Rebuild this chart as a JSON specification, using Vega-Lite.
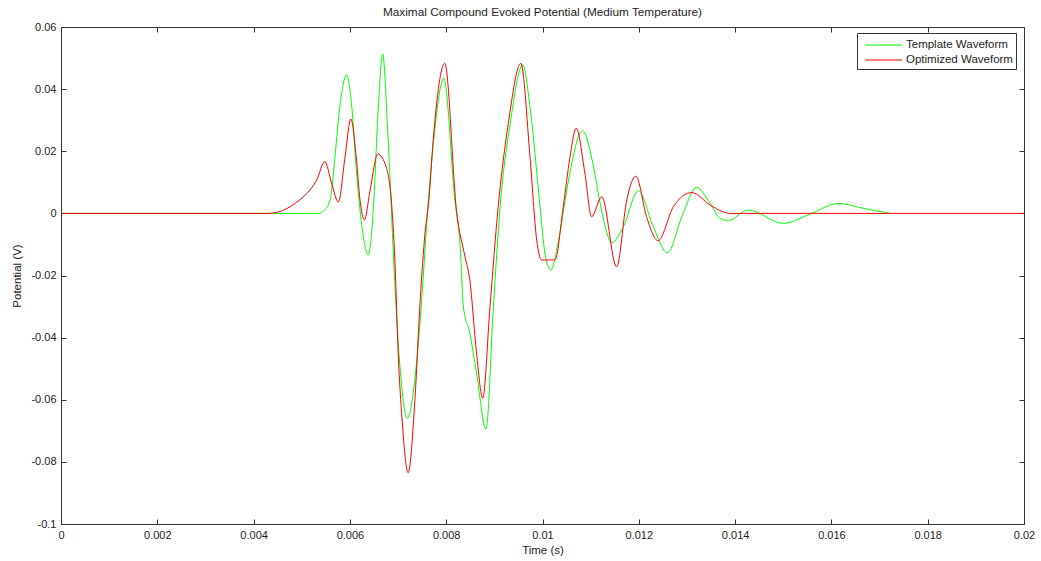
{
  "$schema": "https://vega.github.io/schema/vega-lite/v6.json",
  "width": 963,
  "height": 497,
  "autosize": {"type": "none"},
  "padding": {"left": 61, "top": 27, "right": 17, "bottom": 37},
  "background": "white",
  "config": {
    "font": "Liberation Sans",
    "view": {"stroke": "#333", "strokeWidth": 1},
    "axis": {"labelFont": "Liberation Sans", "titleFont": "Liberation Sans", "labelFontSize": 11, "titleFontSize": 11.5, "titleFontWeight": "normal", "labelColor": "#222", "titleColor": "#222", "domainColor": "#333", "tickColor": "#333", "grid": false}
  },
  "title": {"text": "Maximal Compound Evoked Potential (Medium Temperature)", "fontSize": 11.8, "fontWeight": "normal", "font": "Liberation Sans", "color": "#222", "offset": 2},
  "datasets": {
    "wave": [
      {"series": "Template Waveform", "t": 0, "v": 0},
      {"series": "Template Waveform", "t": 0.00535, "v": 0},
      {"series": "Template Waveform", "t": 0.00548, "v": 0.0012},
      {"series": "Template Waveform", "t": 0.00559, "v": 0.0043},
      {"series": "Template Waveform", "t": 0.00569, "v": 0.0183},
      {"series": "Template Waveform", "t": 0.00579, "v": 0.0343},
      {"series": "Template Waveform", "t": 0.00593, "v": 0.0446},
      {"series": "Template Waveform", "t": 0.00604, "v": 0.0343},
      {"series": "Template Waveform", "t": 0.00614, "v": 0.0129},
      {"series": "Template Waveform", "t": 0.00625, "v": -0.0043},
      {"series": "Template Waveform", "t": 0.00638, "v": -0.0134},
      {"series": "Template Waveform", "t": 0.00649, "v": 0.0022},
      {"series": "Template Waveform", "t": 0.00659, "v": 0.0343},
      {"series": "Template Waveform", "t": 0.00668, "v": 0.0513},
      {"series": "Template Waveform", "t": 0.00679, "v": 0.025},
      {"series": "Template Waveform", "t": 0.00694, "v": -0.0247},
      {"series": "Template Waveform", "t": 0.00704, "v": -0.0494},
      {"series": "Template Waveform", "t": 0.00719, "v": -0.066},
      {"series": "Template Waveform", "t": 0.00739, "v": -0.0472},
      {"series": "Template Waveform", "t": 0.00749, "v": -0.0279},
      {"series": "Template Waveform", "t": 0.00763, "v": 0.0043},
      {"series": "Template Waveform", "t": 0.00775, "v": 0.025},
      {"series": "Template Waveform", "t": 0.00795, "v": 0.0435},
      {"series": "Template Waveform", "t": 0.00818, "v": 0.0043},
      {"series": "Template Waveform", "t": 0.00829, "v": -0.0107},
      {"series": "Template Waveform", "t": 0.008356, "v": -0.03},
      {"series": "Template Waveform", "t": 0.00849, "v": -0.0385},
      {"series": "Template Waveform", "t": 0.00863, "v": -0.0514},
      {"series": "Template Waveform", "t": 0.008827, "v": -0.0695},
      {"series": "Template Waveform", "t": 0.00898, "v": -0.03},
      {"series": "Template Waveform", "t": 0.00912, "v": 0.0022},
      {"series": "Template Waveform", "t": 0.00933, "v": 0.029},
      {"series": "Template Waveform", "t": 0.00959, "v": 0.0478},
      {"series": "Template Waveform", "t": 0.00974, "v": 0.0343},
      {"series": "Template Waveform", "t": 0.00995, "v": 0.002},
      {"series": "Template Waveform", "t": 0.01005, "v": -0.0128},
      {"series": "Template Waveform", "t": 0.01017, "v": -0.0182},
      {"series": "Template Waveform", "t": 0.01036, "v": -0.0064},
      {"series": "Template Waveform", "t": 0.01054, "v": 0.0107},
      {"series": "Template Waveform", "t": 0.01083, "v": 0.0266},
      {"series": "Template Waveform", "t": 0.01106, "v": 0.015},
      {"series": "Template Waveform", "t": 0.0112, "v": 0.003},
      {"series": "Template Waveform", "t": 0.01144, "v": -0.0094},
      {"series": "Template Waveform", "t": 0.01168, "v": -0.0043},
      {"series": "Template Waveform", "t": 0.01199, "v": 0.0073},
      {"series": "Template Waveform", "t": 0.0123, "v": -0.0043},
      {"series": "Template Waveform", "t": 0.01259, "v": -0.0127},
      {"series": "Template Waveform", "t": 0.01292, "v": 0},
      {"series": "Template Waveform", "t": 0.0132, "v": 0.0084},
      {"series": "Template Waveform", "t": 0.01348, "v": 0.0032},
      {"series": "Template Waveform", "t": 0.01369, "v": -0.0016},
      {"series": "Template Waveform", "t": 0.01386, "v": -0.0023},
      {"series": "Template Waveform", "t": 0.01427, "v": 0.0011},
      {"series": "Template Waveform", "t": 0.015, "v": -0.0032},
      {"series": "Template Waveform", "t": 0.01559, "v": 0},
      {"series": "Template Waveform", "t": 0.01614, "v": 0.0032},
      {"series": "Template Waveform", "t": 0.0167, "v": 0.0015},
      {"series": "Template Waveform", "t": 0.01722, "v": 0},
      {"series": "Optimized Waveform", "t": 0, "v": 0},
      {"series": "Optimized Waveform", "t": 0.0043, "v": 0},
      {"series": "Optimized Waveform", "t": 0.00455, "v": 0.0006},
      {"series": "Optimized Waveform", "t": 0.00476, "v": 0.0022},
      {"series": "Optimized Waveform", "t": 0.00497, "v": 0.0045},
      {"series": "Optimized Waveform", "t": 0.00517, "v": 0.0075},
      {"series": "Optimized Waveform", "t": 0.00531, "v": 0.0107},
      {"series": "Optimized Waveform", "t": 0.00548, "v": 0.0167},
      {"series": "Optimized Waveform", "t": 0.00562, "v": 0.0097},
      {"series": "Optimized Waveform", "t": 0.00576, "v": 0.0036},
      {"series": "Optimized Waveform", "t": 0.0059, "v": 0.0183},
      {"series": "Optimized Waveform", "t": 0.00602, "v": 0.0304},
      {"series": "Optimized Waveform", "t": 0.00613, "v": 0.0183},
      {"series": "Optimized Waveform", "t": 0.00621, "v": 0.0043},
      {"series": "Optimized Waveform", "t": 0.0063, "v": -0.0021},
      {"series": "Optimized Waveform", "t": 0.00642, "v": 0.0075},
      {"series": "Optimized Waveform", "t": 0.00658, "v": 0.0191},
      {"series": "Optimized Waveform", "t": 0.00676, "v": 0.0146},
      {"series": "Optimized Waveform", "t": 0.00687, "v": 0.0022},
      {"series": "Optimized Waveform", "t": 0.00694, "v": -0.0172},
      {"series": "Optimized Waveform", "t": 0.007, "v": -0.044},
      {"series": "Optimized Waveform", "t": 0.00708, "v": -0.0655},
      {"series": "Optimized Waveform", "t": 0.00721, "v": -0.0835},
      {"series": "Optimized Waveform", "t": 0.00735, "v": -0.06},
      {"series": "Optimized Waveform", "t": 0.00746, "v": -0.0279},
      {"series": "Optimized Waveform", "t": 0.00756, "v": -0.0064},
      {"series": "Optimized Waveform", "t": 0.00764, "v": 0.0043},
      {"series": "Optimized Waveform", "t": 0.00773, "v": 0.0236},
      {"series": "Optimized Waveform", "t": 0.00797, "v": 0.0483},
      {"series": "Optimized Waveform", "t": 0.00822, "v": 0},
      {"series": "Optimized Waveform", "t": 0.00839, "v": -0.0139},
      {"series": "Optimized Waveform", "t": 0.00849, "v": -0.0214},
      {"series": "Optimized Waveform", "t": 0.00863, "v": -0.045},
      {"series": "Optimized Waveform", "t": 0.008758, "v": -0.0595},
      {"series": "Optimized Waveform", "t": 0.00891, "v": -0.03},
      {"series": "Optimized Waveform", "t": 0.00908, "v": 0.0022},
      {"series": "Optimized Waveform", "t": 0.00929, "v": 0.029},
      {"series": "Optimized Waveform", "t": 0.00955, "v": 0.0483},
      {"series": "Optimized Waveform", "t": 0.00974, "v": 0.0183},
      {"series": "Optimized Waveform", "t": 0.00988, "v": -0.0086},
      {"series": "Optimized Waveform", "t": 0.00998, "v": -0.015},
      {"series": "Optimized Waveform", "t": 0.01026, "v": -0.015},
      {"series": "Optimized Waveform", "t": 0.01043, "v": 0.002},
      {"series": "Optimized Waveform", "t": 0.01057, "v": 0.018},
      {"series": "Optimized Waveform", "t": 0.0107, "v": 0.0274},
      {"series": "Optimized Waveform", "t": 0.01088, "v": 0.013},
      {"series": "Optimized Waveform", "t": 0.01102, "v": -0.0011},
      {"series": "Optimized Waveform", "t": 0.01123, "v": 0.0054},
      {"series": "Optimized Waveform", "t": 0.01154, "v": -0.0172},
      {"series": "Optimized Waveform", "t": 0.01175, "v": 0.0043},
      {"series": "Optimized Waveform", "t": 0.01194, "v": 0.012},
      {"series": "Optimized Waveform", "t": 0.01216, "v": -0.001},
      {"series": "Optimized Waveform", "t": 0.0124, "v": -0.0088},
      {"series": "Optimized Waveform", "t": 0.01272, "v": 0.0022},
      {"series": "Optimized Waveform", "t": 0.0131, "v": 0.0067},
      {"series": "Optimized Waveform", "t": 0.01348, "v": 0.0027},
      {"series": "Optimized Waveform", "t": 0.01375, "v": 0.0005},
      {"series": "Optimized Waveform", "t": 0.0139, "v": 0},
      {"series": "Optimized Waveform", "t": 0.02, "v": 0}
    ]
  },
  "data": {"name": "wave"},
  "resolve": {"axis": {"x": "independent", "y": "independent"}},
  "layer": [
    {
      "mark": {"type": "line", "strokeWidth": 1, "interpolate": "monotone"},
      "encoding": {
        "x": {"field": "t", "type": "quantitative", "scale": {"domain": [0, 0.02], "nice": false, "zero": false},
              "axis": {"orient": "bottom", "title": "Time (s)", "tickCount": 10, "format": "~g", "tickSize": -5, "labelPadding": 10, "titlePadding": 4, "labelFlush": false, "labelOverlap": false}},
        "y": {"field": "v", "type": "quantitative", "scale": {"domain": [-0.1, 0.06], "nice": false, "zero": false},
              "axis": {"orient": "left", "title": "Potential (V)", "values": [-0.1, -0.08, -0.06, -0.04, -0.02, 0, 0.02, 0.04, 0.06], "format": "~g", "labelExpr": "replace(datum.label, '\u2212', '-')", "tickSize": -5, "labelPadding": 10, "titlePadding": 8, "labelFlush": false, "labelOverlap": false}},
        "color": {"field": "series", "type": "nominal", "sort": ["Template Waveform", "Optimized Waveform"],
                  "scale": {"domain": ["Template Waveform", "Optimized Waveform"], "range": ["#00ff00", "#ff0000"]},
                  "legend": {"title": null, "orient": "none", "legendX": 796, "legendY": 6, "symbolType": "M-0.45,0H3.9", "symbolSize": 289, "symbolStrokeWidth": 1, "symbolFillColor": "transparent", "labelFontSize": 11.5, "labelFont": "Liberation Sans", "labelColor": "#222", "fillColor": "white", "strokeColor": "#333", "padding": 3, "rowPadding": 0, "cornerRadius": 0, "labelOffset": 28}}
      }
    },
    {
      "mark": {"type": "point", "opacity": 0},
      "encoding": {
        "x": {"field": "t", "type": "quantitative", "axis": {"orient": "top", "title": null, "labels": false, "tickCount": 10, "tickSize": -5, "domain": false}},
        "y": {"field": "v", "type": "quantitative", "axis": {"orient": "right", "title": null, "labels": false, "values": [-0.1, -0.08, -0.06, -0.04, -0.02, 0, 0.02, 0.04, 0.06], "tickSize": -5, "domain": false}}
      }
    }
  ]
}
